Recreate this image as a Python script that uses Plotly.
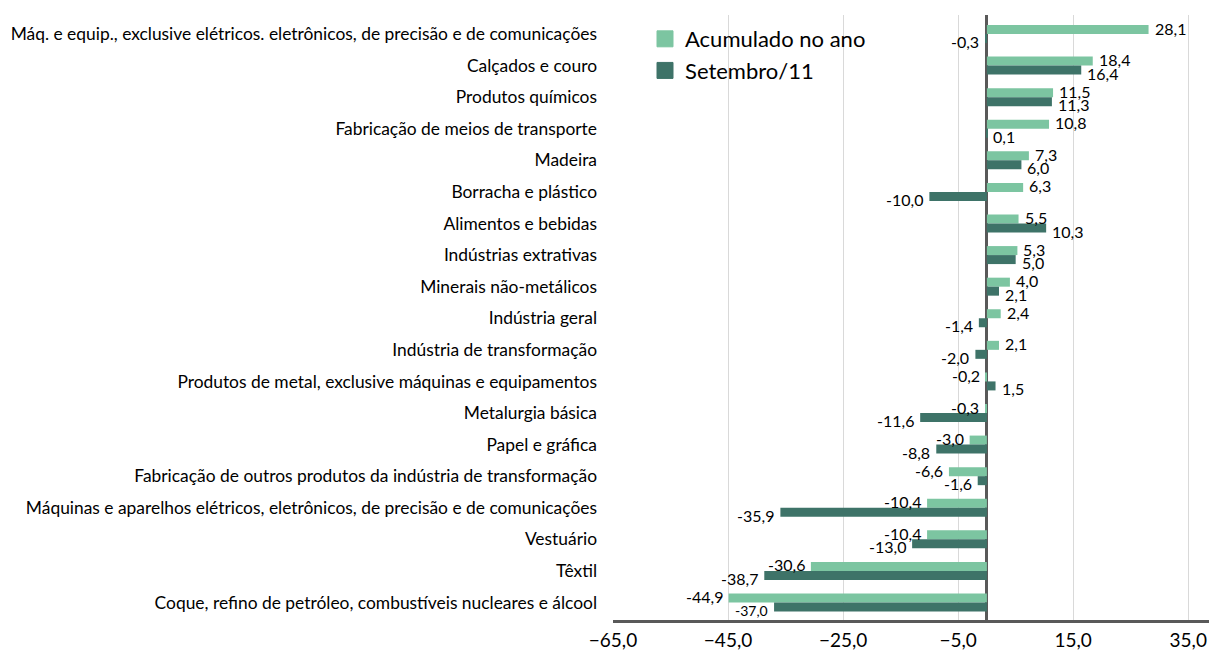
import plotly.graph_objects as go

categories = [
    "Máq. e equip., exclusive elétricos. eletrônicos, de precisão e de comunicações",
    "Calçados e couro",
    "Produtos químicos",
    "Fabricação de meios de transporte",
    "Madeira",
    "Borracha e plástico",
    "Alimentos e bebidas",
    "Indústrias extrativas",
    "Minerais não-metálicos",
    "Indústria geral",
    "Indústria de transformação",
    "Produtos de metal, exclusive máquinas e equipamentos",
    "Metalurgia básica",
    "Papel e gráfica",
    "Fabricação de outros produtos da indústria de transformação",
    "Máquinas e aparelhos elétricos, eletrônicos, de precisão e de comunicações",
    "Vestuário",
    "Têxtil",
    "Coque, refino de petróleo, combustíveis nucleares e álcool",
]
acumulado = [28.1, 18.4, 11.5, 10.8, 7.3, 6.3, 5.5, 5.3, 4.0, 2.4, 2.1, -0.2, -0.3, -3.0, -6.6, -10.4, -10.4, -30.6, -44.9]
setembro = [-0.3, 16.4, 11.3, 0.1, 6.0, -10.0, 10.3, 5.0, 2.1, -1.4, -2.0, 1.5, -11.6, -8.8, -1.6, -35.9, -13.0, -38.7, -37.0]
series_names = ["Acumulado no ano", "Setembro/11"]

LIGHT = "#7CC5A1"
DARK = "#3E7368"
FONT = "Lato"

fig = go.Figure()

for name, vals, col in zip(series_names, [acumulado, setembro], [LIGHT, DARK]):
    fig.add_trace(go.Bar(
        y=categories, x=vals, orientation="h", name=name,
        marker=dict(color=col, line=dict(width=0)),
        showlegend=False,
    ))

# legend entries (larger square symbols)
for name, col in zip(series_names, [LIGHT, DARK]):
    fig.add_trace(go.Scatter(
        x=[None], y=[None], mode="markers", name=name,
        marker=dict(symbol="square", size=16, color=col, line=dict(width=1, color=col)),
        showlegend=True, hoverinfo="skip",
    ))

def fmt(v):
    return f"{v:.1f}".replace(".", ",")

annotations = []
for vals, yshift in [(acumulado, 6), (setembro, -7.5)]:
    for i, (cat, v) in enumerate(zip(categories, vals)):
        size = 16
        if vals is setembro and i == len(vals) - 1:
            size = 14
        annotations.append(dict(
            x=v, y=cat, xref="x", yref="y", text=fmt(v), showarrow=False,
            xanchor="left" if v >= 0 else "right",
            xshift=4 if v >= 0 else -4, yshift=yshift,
            font=dict(family=FONT, size=size, color="#000000"),
        ))

fig.update_layout(
    width=1209, height=643,
    margin=dict(l=605, r=0, t=7, b=31),
    paper_bgcolor="white", plot_bgcolor="white",
    barmode="group", bargap=0.43, bargroupgap=0.0,
    separators=",.",
    font=dict(family=FONT, size=16, color="#000000"),
    showlegend=True,
    annotations=annotations,
    legend=dict(x=0.053, y=0.995, xanchor="left", yanchor="top",
                font=dict(family=FONT, size=22, color="#000000"),
                bgcolor="rgba(0,0,0,0)", itemwidth=30, tracegroupgap=0,
                itemsizing="trace"),
    xaxis=dict(
        range=[-65, 40], tick0=-65, dtick=20, tickformat=".1f",
        showgrid=True, gridcolor="#D9D9D9", gridwidth=1,
        zeroline=True, zerolinecolor="#595959", zerolinewidth=3,
        showline=True, linecolor="#595959", linewidth=3,
        ticks="", ticklabelstandoff=1,
        tickfont=dict(family=FONT, size=19, color="#000000"),
        automargin=False, fixedrange=True,
    ),
    yaxis=dict(
        type="category", categoryorder="array", categoryarray=categories,
        autorange="reversed", showgrid=False, zeroline=False, showline=False,
        ticks="", ticklabelstandoff=15,
        tickfont=dict(family=FONT, size=17.4, color="#000000"),
        automargin=False, fixedrange=True,
    ),
)

fig.write_html("out.html")
